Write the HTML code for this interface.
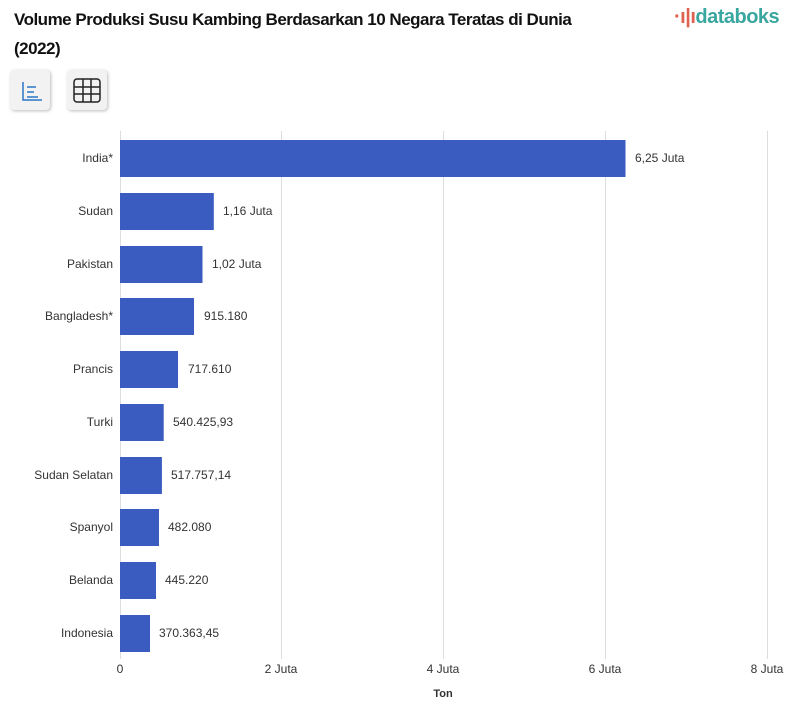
<!DOCTYPE html>
<html><head><meta charset="utf-8"><style>
body{margin:0;background:#fff;width:801px;height:710px;overflow:hidden;font-family:"Liberation Sans",sans-serif}
.t{position:absolute;left:14px;top:5px;font-size:17px;font-weight:bold;color:#111;line-height:29px;letter-spacing:-0.5px;width:600px}
.btn{position:absolute;top:70px;width:40px;height:40px;border-radius:4px;background:#f2f2f2;box-shadow:1px 1px 3px #bbb}
</style></head><body>
<div class="t">Volume Produksi Susu Kambing Berdasarkan 10 Negara Teratas di Dunia<br>(2022)</div>
<div style="position:absolute;left:674px;top:6px;font-size:20px;color:#3aa6a0;font-weight:bold;letter-spacing:-0.5px"><span style="color:#e06050">·ı|ı</span>databoks</div>
<div class="btn" style="left:10px"><svg width="40" height="40"><path d="M13 12V30H32" stroke="#2a78c8" fill="none" stroke-width="1.5"/><path d="M17 17h9M17 22h7M17 27h11" stroke="#2a78c8" stroke-width="1.5"/></svg></div>
<div class="btn" style="left:67px"><svg width="40" height="40"><rect x="7" y="9" width="26" height="23" rx="3" stroke="#222" fill="none" stroke-width="1.5"/><path d="M16 9v23M24 9v23M7 17h26M7 24h26" stroke="#222" stroke-width="1.5"/></svg></div>
<svg width="801" height="710" style="position:absolute;left:0;top:0" font-family="Liberation Sans, sans-serif" font-size="12" fill="#333">
<g stroke="#ddd"><line x1="120.5" y1="131" x2="120.5" y2="659"/><line x1="281.5" y1="131" x2="281.5" y2="659"/><line x1="443.5" y1="131" x2="443.5" y2="659"/><line x1="605.5" y1="131" x2="605.5" y2="659"/><line x1="767.5" y1="131" x2="767.5" y2="659"/></g>
<g fill="#3a5bbf">
<rect x="120" y="140" width="505.5" height="37"/>
<rect x="120" y="193" width="93.8" height="37"/>
<rect x="120" y="246" width="82.5" height="37"/>
<rect x="120" y="298" width="74" height="37"/>
<rect x="120" y="351" width="58" height="37"/>
<rect x="120" y="404" width="43.7" height="37"/>
<rect x="120" y="457" width="41.9" height="37"/>
<rect x="120" y="509" width="39" height="37"/>
<rect x="120" y="562" width="36" height="37"/>
<rect x="120" y="615" width="30" height="37"/>
</g>
<g text-anchor="end">
<text x="113" y="162">India*</text><text x="113" y="215">Sudan</text><text x="113" y="268">Pakistan</text><text x="113" y="320">Bangladesh*</text><text x="113" y="373">Prancis</text><text x="113" y="426">Turki</text><text x="113" y="479">Sudan Selatan</text><text x="113" y="531">Spanyol</text><text x="113" y="584">Belanda</text><text x="113" y="637">Indonesia</text>
</g>
<text x="635" y="162">6,25 Juta</text><text x="223" y="215">1,16 Juta</text><text x="212" y="268">1,02 Juta</text><text x="204" y="320">915.180</text><text x="188" y="373">717.610</text><text x="173" y="426">540.425,93</text><text x="171" y="479">517.757,14</text><text x="168" y="531">482.080</text><text x="165" y="584">445.220</text><text x="159" y="637">370.363,45</text>
<g text-anchor="middle"><text x="120" y="673">0</text><text x="281" y="673">2 Juta</text><text x="443" y="673">4 Juta</text><text x="605" y="673">6 Juta</text><text x="767" y="673">8 Juta</text>
<text x="443" y="697" font-weight="bold" font-size="11">Ton</text></g>
</svg>
</body></html>
